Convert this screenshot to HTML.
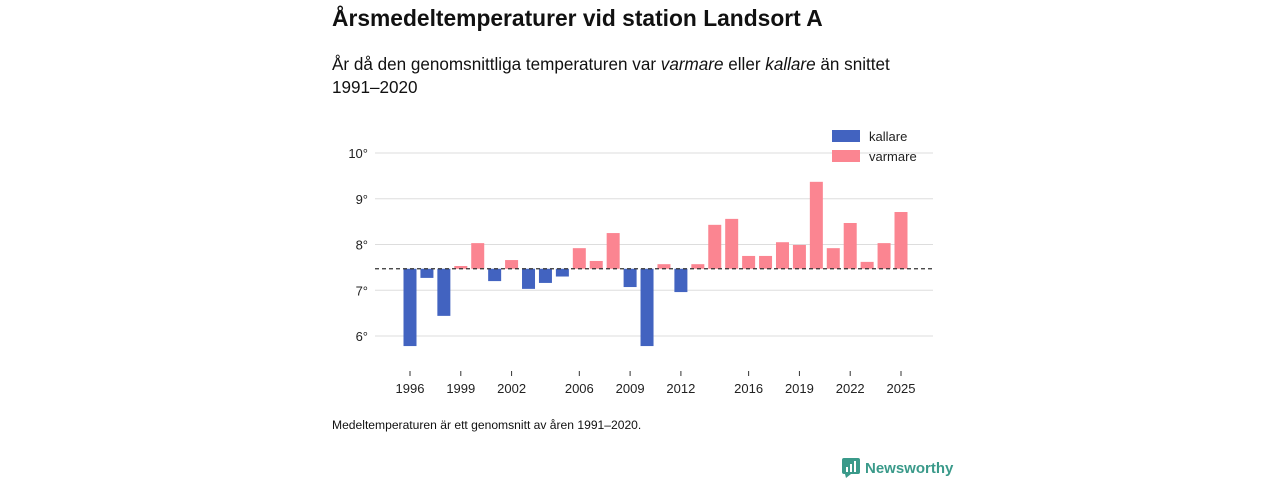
<!DOCTYPE html>
<html><head><meta charset="utf-8"><style>
body{margin:0;width:1280px;height:480px;background:#fff;font-family:"Liberation Sans","DejaVu Sans",sans-serif;color:#111;position:relative;overflow:hidden}
.t{position:absolute;left:332px;top:5px;font-size:22.8px;font-weight:bold}
.s{position:absolute;left:332px;top:53px;font-size:17.1px;line-height:23px;width:600px}
.n{position:absolute;left:332px;top:418px;font-size:12.1px}
.logo{position:absolute;left:842px;top:458px;font-size:15px;font-weight:bold;color:#3a9a8a;display:flex;align-items:center;gap:5px}
</style></head><body>
<div class="t">Årsmedeltemperaturer vid station Landsort A</div>
<div class="s">År då den genomsnittliga temperaturen var <i>varmare</i> eller <i>kallare</i> än snittet 1991–2020</div>
<svg id="c" width="1280" height="480" style="position:absolute;left:0;top:0"></svg>
<div class="n">Medeltemperaturen är ett genomsnitt av åren 1991–2020.</div>
<div class="logo"><svg width="18" height="20"><rect x="0" y="0" width="18" height="16" rx="2" fill="#3a9a8a"/><polygon points="3,16 9,16 4,20" fill="#3a9a8a"/><rect x="4" y="9" width="2" height="5" fill="#fff"/><rect x="8" y="6" width="2" height="8" fill="#fff"/><rect x="12" y="3" width="2" height="11" fill="#fff"/></svg>Newsworthy</div>
<script>
const years=[1996,1997,1998,1999,2000,2001,2002,2003,2004,2005,2006,2007,2008,2009,2010,2011,2012,2013,2014,2015,2016,2017,2018,2019,2020,2021,2022,2023,2024,2025];
const temps=[5.78,7.27,6.44,7.53,8.03,7.2,7.66,7.03,7.16,7.3,7.92,7.64,8.25,7.07,5.78,7.57,6.96,7.57,8.43,8.56,7.75,7.75,8.05,7.99,9.37,7.92,8.47,7.62,8.03,8.71];
const baseline=7.47;
const yTicks=[6,7,8,9,10];
const xTicks=[1996,1999,2002,2006,2009,2012,2016,2019,2022,2025];
const NS='http://www.w3.org/2000/svg',svg=document.getElementById('c');
const x=yr=>410+(yr-1996)*(491/29);
const y=v=>153+(10-v)*45.75;
function mk(t,a,p){const e=document.createElementNS(NS,t);for(const k in a)e.setAttribute(k,a[k]);(p||svg).appendChild(e);return e;}
yTicks.forEach(v=>{
const l=mk('line',{x1:375,x2:933,y1:y(v),y2:y(v),stroke:'#ddd'});


const t=mk('text',{x:368,y:y(v)+5,'text-anchor':'end','font-size':13,fill:'#222'});
t.textContent=v+'°';


});
years.forEach((yr,i)=>{
const v=temps[i],top=Math.min(y(v),y(baseline)),h=Math.abs(y(v)-y(baseline));
const r=mk('rect',{x:x(yr)-6.5,y:top,width:13,height:Math.max(h,0.5),fill:v<baseline?'#4263c0':'#fb8591'});


});
const bl=mk('line',{x1:375,x2:933,y1:y(baseline),y2:y(baseline),stroke:'#333','stroke-dasharray':'4,3','stroke-width':1.2});


xTicks.forEach(yr=>{
const l=mk('line',{x1:x(yr),x2:x(yr),y1:371,y2:376,stroke:'#333'});


const t=mk('text',{x:x(yr),y:393,'text-anchor':'middle','font-size':13,fill:'#222'});
t.textContent=yr;


});
[['kallare','#4263c0',130],['varmare','#fb8591',150]].forEach(([n,c,yy])=>{
const r=mk('rect',{x:832,y:yy,width:28,height:12,fill:c});


const t=mk('text',{x:869,y:yy+11,'font-size':13,fill:'#222'});
t.textContent=n;


});
</script>
</body></html>
